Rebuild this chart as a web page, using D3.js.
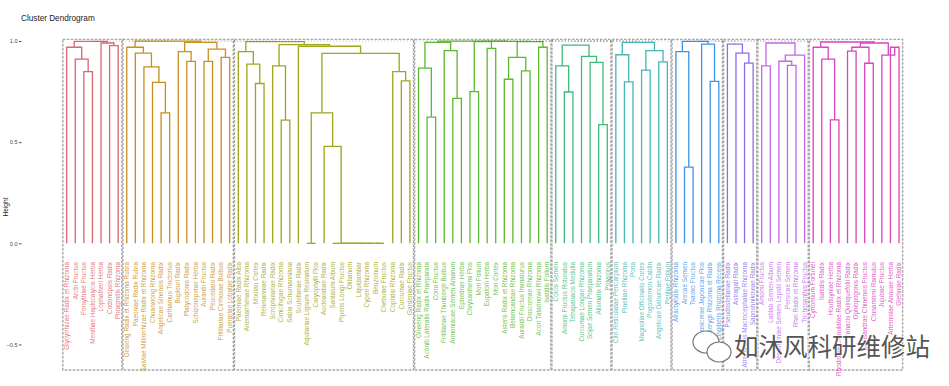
<!DOCTYPE html>
<html lang="en">
<head>
<meta charset="utf-8">
<title>Cluster Dendrogram</title>
<script src="https://cdn.jsdelivr.net/npm/d3@7"></script>
<style>
  body { margin: 0; background: #fff; }
  text { font-family: "Liberation Sans", Arial, sans-serif; }
</style>
</head>
<body>
<script>
// leaf labels of each cluster, left to right
var clusterLabels = [
  ["Glycyrrhizae Radix et Rhizoma", "Arctii Fructus", "Forsythiae Fructus", "Menthae Haplocalycis Herba",
   "Lophatheri Herba", "Codonopsis Radix", "Phragmitis Rhizoma"],
  ["Ginseng Radix et Rhizoma Rubra", "Paeoniae Radix Rubra", "Salviae Miltiorrhizae Radix et Rhizoma",
   "Chuanxiong Rhizoma", "Angelicae Sinensis Radix", "Carthamus Tinctorius", "Bupleuri Radix",
   "Platycodonis Radix", "Schizonepetae Herba", "Aurantii Fructus", "Peucedani Radix",
   "Fritillariae Cirrhosae Bulbus", "Puerariae Lobatae Radix"],
  ["Paeoniae Radix Alba", "Anemarrhenae Rhizoma", "Moutan Cortex", "Rehmanniae Radix", "Scrophulariae Radix",
   "Cimicifugae Rhizoma", "Sabia Schumanniana", "Scutellariae Radix", "Aquilariae Lignum Resinatum",
   "Caryophylli Flos", "Aucklandiae Radix", "Santalum Album", "Piperis Longi Fructus", "Olibanum",
   "Liquidambar", "Cyperi Rhizoma", "Benzoinum", "Chebulae Fructus", "Coptidis Rhizoma", "Curcumae Radix",
   "Gardeniae Fructus"],
  ["Ginseng Radix et Rhizoma", "Aconiti Lateralis Radix Praeparata", "Corni Fructus",
   "Fritillariae Thunbergii Bulbus", "Armeniacae Semen Amarum", "Ephedrae Herba", "Chrysanthemi Flos",
   "Mori Folium", "Eupatorii Herba", "Mori Cortex", "Asteris Radix et Rhizoma", "Belamcandae Rhizoma",
   "Aurantii Fructus Immaturus", "Dioscoreae Rhizoma", "Acori Tatarinowii Rhizoma", "Isatidis Folium"],
  ["Coicis Semen", "Amomi Fructus Rotundus", "Tetrapanacis Medulla", "Curcumae Longae Rhizoma",
   "Sojae Semen Praeparatum", "Alismatis Rhizoma", "Polyporus"],
  ["Citri Reticulatae Pericarpium", "Pinelliae Rhizoma", "Poria", "Magnoliae Officinalis Cortex",
   "Pogostemon Cablin", "Angelicae Dahuricae Radix", "Perillae Folium"],
  ["Atractylodis Rhizoma", "Arecae Semen", "Tsaoko Fructus", "Lonicerae Japonicae Flos",
   "Notopterygii Rhizoma et Radix", "Zingiberis Rhizoma Recens"],
  ["Pseudostellariae Radix", "Astragali Radix", "Atractylodis Macrocephalae Rhizoma", "Saposhnikoviae Radix"],
  ["Amomi Fructus", "Lablab Semen Album", "Descurainiae Semen Lepidii Semen", "Persicae Semen",
   "Rhei Radix et Rhizoma", "Trichosanthis Fructus"],
  ["Cyrtomium Fortunei", "Isatidis Radix", "Houttuyniae Herba", "Rhodiolae Crenulatae Radix et Rhizoma",
   "Panacis Quinquefolii Radix", "Ophiopogonis Radix", "Schisandrae Chinensis Fructus", "Cinnamomi Ramulus",
   "Jujubae Fructus", "Artemisiae Annuae Herba", "Glehniae Radix"]
];

// merges inside each cluster: [height, left, right], numbers = leaf index in the cluster
var clusterMerges = [
  [0.998, [0.969, 0, [0.910, 1, [0.849, 2, 3]]], [0.990, 4, [0.977, 5, 6]]],
  [0.9995, [0.969, 0, [0.940, 1, [0.872, 2, [0.795, 3, [0.645, 4, 5]]]]],
           [0.993, [0.947, 6, [0.899, 7, 8]], [0.960, [0.899, 9, 10], [0.919, 11, 12]]]],
  [0.997, [0.947, 0, [0.886, 1, [0.790, 2, 3]]],
          [0.982, [0.877, 4, [0.609, 5, 6]],
                  [0.974, 7, [0.939, [0.645, [0, 8, 9], [0.479, 10, [0, 11, [0, 12, [0, 13, [0, 14, [0, 15, [0, 16, 17]]]]]]]],
                                     [0.849, 18, [0.803, 19, 20]]]]]],
  [0.999, [0.993, [0.866, 0, [0.624, 1, 2]], [0.952, 3, [0.716, 4, 5]]],
          [0.998, [0.997, [0.750, 6, 7], [0.964, 8, 9]],
                  [0.997, [0.919, [0.811, 10, 11], [0.852, 12, 13]], [0.969, 14, 15]]]],
  [0.980, [0.877, 0, [0.748, 1, 2]], [0.924, 3, [0.894, 4, [0.587, 5, 6]]]],
  [0.993, [0.932, 0, [0.798, 1, 2]], [0.952, [0.856, 3, 4], [0.897, 5, 6]]],
  [0.998, [0.947, 0, [0.377, 1, 2]], [0.985, 3, [0.800, 4, 5]]],
  [0.985, 0, [0.940, 1, [0.891, 2, 3]]],
  [0.990, [0.877, 0, 1], [0.930, [0.900, 2, [0.880, 3, 4]], 5]],
  [0.995, [0.969, 0, [0.910, 1, [0.610, 2, 3]]],
          [0.990, [0.969, [0.950, 4, 5], [0.890, 6, 7]], [0.930, 8, [0.969, 9, 10]]]]
];

// merges between clusters (numbers = cluster index)
var upperMerges = [1, [1, [1, 0, 1], 2], [1, [1, 3, [1, 4, 5]], [1, [1, 6, 7], [1, 8, 9]]]];

var clusterColors = ["#DC6670", "#C98F1C", "#9FA51C", "#5CB82F", "#3DBA7C", "#45B7B4",
                     "#3F93E6", "#8E6CEB", "#C168E6", "#D945BE"];

var yTicks = [-0.5, 0, 0.5, 1];

var w = 949, h = 386;
var svg = d3.select("body").append("svg").attr("width", w).attr("height", h);

var nLeaves = d3.sum(clusterLabels, function(c) { return c.length; });
var x = d3.scaleLinear().domain([0, nLeaves - 1]).range([66.7, 899]);
var y = d3.scaleLinear().domain([-0.5, 1]).range([344.45, 41]);

// title and axis
svg.append("text").attr("x", 21).attr("y", 21).attr("font-size", 8.2).attr("fill", "#222")
  .text("Cluster Dendrogram");
svg.append("text").attr("transform", "translate(8,207) rotate(-90)").attr("text-anchor", "middle")
  .attr("font-size", 6.6).attr("fill", "#222").text("Height");

var yAxis = svg.append("g").attr("transform", "translate(21.5,0)")
  .call(d3.axisLeft(y).tickValues(yTicks).tickFormat(d3.format(".1f")).tickSize(2.5).tickPadding(1.5));
yAxis.select(".domain").remove();
yAxis.selectAll("text").attr("font-size", 5.6).attr("fill", "#4D4D4D")
  .style("font-family", "'Liberation Sans', Arial, sans-serif");
yAxis.selectAll("line").attr("stroke", "#4D4D4D");

function kids(d) { return Array.isArray(d) ? d.slice(1) : null; }

// place nodes: leaves at their index, parents midway between children
function layout(tree, leafPos) {
  var root = d3.hierarchy(tree, kids);
  root.eachAfter(function(n) {
    if (n.children) {
      n.px = (n.children[0].px + n.children[1].px) / 2;
      n.ph = n.data[0];
    } else {
      n.px = leafPos(n.data);
      n.ph = 0;
    }
  });
  return root;
}

function elbow(p, c) {
  return "M" + c.px + "," + y(c.ph) + "V" + y(p.ph) + "H" + p.px;
}

var offsets = [], off = 0;
clusterLabels.forEach(function(c) { offsets.push(off); off += c.length; });

// rectangles around clusters
svg.append("g").selectAll("rect").data(clusterLabels).join("rect")
  .attr("x", function(c, i) { return x(offsets[i] - 0.45); })
  .attr("y", y(1.008))
  .attr("width", function(c, i) { return x(offsets[i] + c.length - 1 + 0.42) - x(offsets[i] - 0.45); })
  .attr("height", y(-0.626) - y(1.008))
  .attr("fill", "none").attr("stroke", "#A6A6A6").attr("stroke-width", 1.4)
  .attr("stroke-dasharray", "2.6,1.4");

var roots = [];
clusterMerges.forEach(function(tree, ci) {
  var root = layout(tree, function(k) { return x(offsets[ci] + k); });
  roots.push(root);
  var g = svg.append("g").attr("fill", "none").attr("stroke", clusterColors[ci])
    .attr("stroke-width", 1.3).attr("stroke-linejoin", "miter");
  g.selectAll("path").data(root.descendants().filter(function(n) { return n.parent; })).join("path")
    .attr("d", function(n) { return elbow(n.parent, n); });

  svg.append("g").selectAll("text").data(clusterLabels[ci]).join("text")
    .attr("transform", function(d, k) { return "translate(" + x(offsets[ci] + k) + ",262) rotate(-90)"; })
    .attr("dy", "0.35em").attr("text-anchor", "end").attr("font-size", 6.4)
    .attr("fill", clusterColors[ci]).attr("fill-opacity", 0.9)
    .text(function(d) { return d; });
});

// upper tree joining clusters
var upper = d3.hierarchy(upperMerges, kids);
upper.eachAfter(function(n) {
  if (n.children) {
    n.px = (n.children[0].px + n.children[1].px) / 2;
    n.ph = n.data[0];
  } else {
    n.px = roots[n.data].px;
    n.ph = roots[n.data].ph;
  }
});
svg.append("g").attr("fill", "none").attr("stroke", "#333").attr("stroke-width", 0.6)
  .attr("stroke-opacity", 0.7).attr("stroke-dasharray", "0.8,2.4")
  .selectAll("path").data(upper.descendants().filter(function(n) { return n.parent; })).join("path")
  .attr("d", function(n) { return elbow(n.parent, n); });

// watermark
var wm = svg.append("g").attr("fill", "#fff").attr("stroke", "#777").attr("stroke-width", 1.2);
wm.append("ellipse").attr("cx", 706).attr("cy", 342).attr("rx", 13).attr("ry", 11);
wm.append("ellipse").attr("cx", 719).attr("cy", 352).attr("rx", 12).attr("ry", 10);
svg.append("text").attr("x", 734).attr("y", 356).attr("font-size", 24.5)
  .style("font-family", "'Noto Sans CJK SC', sans-serif")
  .attr("fill", "#555").attr("stroke", "#fff").attr("stroke-width", 1.5).attr("paint-order", "stroke")
  .text("如沐风科研维修站");
</script>
</body>
</html>
